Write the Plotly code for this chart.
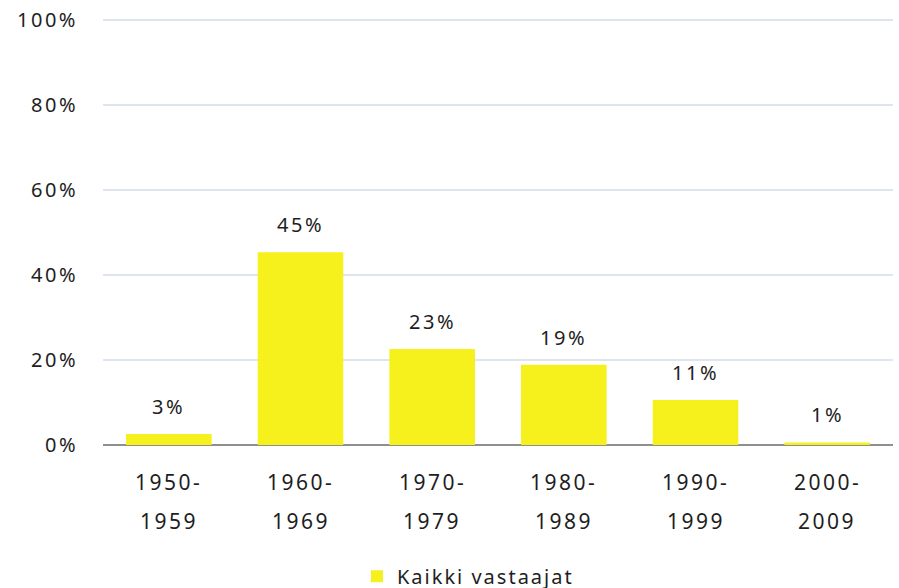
import plotly.graph_objects as go

categories = ["1950-1959", "1960-1969", "1970-1979", "1980-1989", "1990-1999", "2000-2009"]
tick_top = ["1950-", "1960-", "1970-", "1980-", "1990-", "2000-"]
tick_bottom = ["1959", "1969", "1979", "1989", "1999", "2009"]
values = [2.6, 45.4, 22.6, 18.9, 10.6, 0.6]
series_name = "Kaikki vastaajat"
y_ticks = [0, 20, 40, 60, 80, 100]

FONT = "Noto Sans"
TXT = "#1e1e1e"
BAR = "#F6F01C"


def sp(t, ls=2.5):
    return f'<span style="letter-spacing:{ls}px">{t}</span>'


fig = go.Figure()
fig.add_trace(go.Bar(
    x=categories, y=values, name=sp(series_name, 2),
    marker=dict(color=BAR, line=dict(width=0)),
    hoverinfo="skip",
))

annotations = []
for c, v in zip(categories, values):
    annotations.append(dict(x=c, y=v, xref="x", yref="y", text=sp(f"{v:.0f}%"),
                            showarrow=False, yanchor="bottom", yshift=12,
                            font=dict(family=FONT, size=20, color=TXT)))
for c, t1, t2 in zip(categories, tick_top, tick_bottom):
    annotations.append(dict(x=c, y=0, xref="x", yref="paper", text=sp(t1),
                            showarrow=False, yanchor="middle", yshift=-37,
                            font=dict(family=FONT, size=21, color=TXT)))
    annotations.append(dict(x=c, y=0, xref="x", yref="paper", text=sp(t2),
                            showarrow=False, yanchor="middle", yshift=-76,
                            font=dict(family=FONT, size=21, color=TXT)))

fig.update_layout(
    width=899, height=588,
    margin=dict(l=103, r=6, t=19, b=143, autoexpand=False),
    paper_bgcolor="white", plot_bgcolor="white",
    bargap=0.35,
    showlegend=True,
    legend=dict(orientation="h", x=0.462, xanchor="center", y=-0.308, yanchor="middle",
                font=dict(family=FONT, size=20, color=TXT), itemwidth=30),
    annotations=annotations,
    font=dict(family=FONT, color=TXT),
)
fig.update_xaxes(showticklabels=False, showgrid=False, zeroline=False, showline=False,
                 fixedrange=True)
fig.update_yaxes(range=[0, 100.3], tickvals=y_ticks, ticktext=[sp(f"{v}%") for v in y_ticks],
                 showgrid=True, gridcolor="#dfe5ef", gridwidth=2,
                 zeroline=True, zerolinecolor="#8f8f8f", zerolinewidth=2,
                 showline=False, ticks="", ticklabelstandoff=24,
                 tickfont=dict(family=FONT, size=20, color=TXT), fixedrange=True)

fig.write_html("out.html", config={"displayModeBar": False},
               post_script="document.body.style.margin='0';")
